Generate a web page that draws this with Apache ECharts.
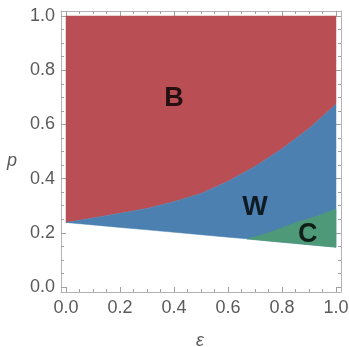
<!DOCTYPE html>
<html>
<head>
<meta charset="utf-8">
<script src="https://cdn.jsdelivr.net/npm/echarts@6/dist/echarts.min.js"></script>
<style>
  html, body { margin: 0; padding: 0; background: #fff; }
  #main { width: 349px; height: 347px; }
</style>
</head>
<body>
<div id="main"></div>
<script>
// region boundaries
const epsGrid = [0, 0.1, 0.2, 0.3, 0.4, 0.5, 0.6, 0.7, 0.8, 0.9, 1.0];
const pUpper = [0.238, 0.255, 0.272, 0.29, 0.315, 0.345, 0.39, 0.445, 0.51, 0.585, 0.674];
const pLower = [0.238, 0.229, 0.220, 0.211, 0.202, 0.193, 0.184, 0.175, 0.165, 0.156, 0.147];
// green corner (C)
const epsC = [0.67, 0.75, 0.85, 0.93, 1.0];
const pCTop = [0.177, 0.2, 0.237, 0.262, 0.288];
const pCBottom = [0.177, 0.170, 0.161, 0.153, 0.147];
// region labels
const regionNames = ['B', 'W', 'C'];
const labelEps = [0.40, 0.70, 0.895];
const labelP = [0.705, 0.305, 0.205];
const tickLabels = ['0.0', '0.2', '0.4', '0.6', '0.8', '1.0'];

const FONT = 'Liberation Sans';
const GRAY = '#5a5a5a';

// polygons built from the curves
const upperPts = epsGrid.map((e, i) => [e, pUpper[i]]);
const lowerPts = epsGrid.map((e, i) => [e, pLower[i]]);
const polyB = [[0, 1], [1, 1]].concat(upperPts.slice().reverse());
const polyW = upperPts.concat(lowerPts.slice().reverse());
const polyC = epsC.map((e, i) => [e, pCTop[i]])
  .concat(epsC.map((e, i) => [e, pCBottom[i]]).reverse());

function region(name, pts, color) {
  return {
    type: 'custom',
    name: name,
    xAxisIndex: 2,
    yAxisIndex: 2,
    silent: true,
    data: pts,
    renderItem: (params, api) => {
      if (params.dataIndex !== 0) return;
      return {
        type: 'polygon',
        shape: { points: pts.map(p => api.coord(p)) },
        style: { fill: color, stroke: color, lineWidth: 0.5 }
      };
    }
  };
}

const chart = echarts.init(document.getElementById('main'));

// frame axes (grid 0), just lines
const frameAxis = pos => ({
  gridIndex: 0, type: 'value', position: pos, min: -0.02, max: 1.02,
  axisLine: { show: true, onZero: false, lineStyle: { color: '#b4b4b4', width: 1 } },
  axisTick: { show: false }, axisLabel: { show: false }, splitLine: { show: false }
});

// tick axes (grid 1), offset out onto the frame
const tickAxis = (pos, labels, extra) => Object.assign({
  gridIndex: 1, type: 'value', position: pos, min: 0, max: 1, interval: 0.2, offset: 5,
  axisLine: { show: false, onZero: false },
  axisTick: { show: true, inside: true, length: 5, lineStyle: { color: '#a0a0a0' } },
  minorTick: { show: true, splitNumber: 4, length: 3, lineStyle: { color: '#a0a0a0' } },
  splitLine: { show: false },
  axisLabel: {
    show: labels, fontFamily: FONT, fontSize: 18, color: GRAY,
    formatter: v => tickLabels[Math.round(v / 0.2)]
  }
}, extra || {});

chart.setOption({
  animation: false,
  grid: [
    { left: 61, right: 8, top: 11, bottom: 55, outerBoundsMode: 'none' },
    { left: 66, right: 13, top: 16, bottom: 60, outerBoundsMode: 'none' }
  ],
  // x axis title sits too close to the edge for the axis name to show
  graphic: [{
    type: 'text', x: 200, y: 341,
    style: { text: 'ε', font: 'italic 18px "Liberation Sans"', fill: GRAY,
      align: 'center', verticalAlign: 'middle' }
  }],
  xAxis: [
    frameAxis('bottom'),
    frameAxis('top'),
    tickAxis('bottom', true, {
      axisLabel: { show: true, margin: 7, fontFamily: FONT, fontSize: 18, color: GRAY,
        formatter: v => tickLabels[Math.round(v / 0.2)] }
    }),
    tickAxis('top', false)
  ],
  yAxis: [
    frameAxis('left'),
    frameAxis('right'),
    tickAxis('left', true, {
      name: 'p', nameLocation: 'middle', nameGap: 44, nameRotate: 0,
      nameTextStyle: { fontFamily: FONT, fontSize: 18, fontStyle: 'italic', color: GRAY,
        verticalAlign: 'top' },
      axisLabel: { show: true, margin: 6, fontFamily: FONT, fontSize: 18, color: GRAY,
        formatter: v => tickLabels[Math.round(v / 0.2)] }
    }),
    tickAxis('right', false)
  ],
  series: [
    region('B', polyB, '#b94e55'),
    region('W', polyW, '#4b80b1'),
    region('C', polyC, '#4e9a78'),
    {
      type: 'scatter',
      xAxisIndex: 2,
      yAxisIndex: 2,
      silent: true,
      symbolSize: 0,
      data: labelEps.map((e, i) => [e, labelP[i]]),
      label: {
        show: true, position: 'inside', offset: [0, 3],
        formatter: p => regionNames[p.dataIndex],
        fontFamily: FONT, fontSize: 27, fontWeight: 'bold', color: '#000'
      }
    }
  ]
});
</script>
</body>
</html>
